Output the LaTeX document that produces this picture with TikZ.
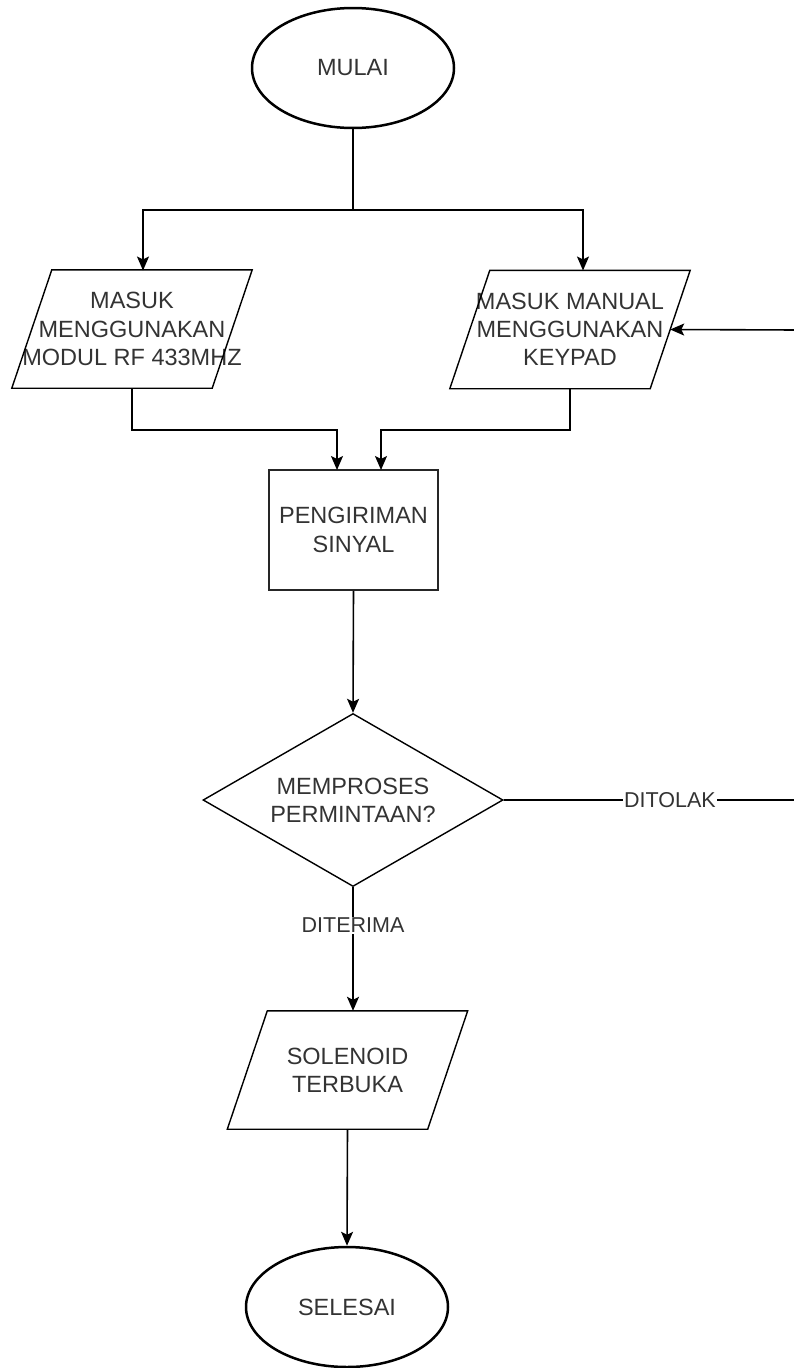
\documentclass[tikz,border=0pt]{standalone}
\usepackage{fontspec}
\setmainfont{Liberation Sans}
\usetikzlibrary{shapes.geometric,arrows.meta,calc}
\definecolor{txt}{HTML}{333333}
\begin{document}
\begin{tikzpicture}[x=1pt,y=-1pt,
  every node/.style={text=txt,font=\fontsize{23.5}{28.2}\selectfont,align=center},
  term/.style={ellipse,draw=black,line width=2.5pt,minimum width=202pt,minimum height=120pt,inner sep=0pt},
  io/.style={rectangle,minimum width=240pt,minimum height=118pt,inner sep=0pt},
  iob/.style={draw=black,line width=1.4pt},
  proc/.style={rectangle,draw=black!85,line width=1.6pt,minimum width=169pt,minimum height=120pt,inner sep=0pt},
  dec/.style={diamond,draw=black,line width=1.4pt,aspect=1.73,minimum width=300pt,minimum height=173pt,inner sep=0pt},
  conn/.style={draw=black,line width=1.6pt},
  arr/.style={conn,-{Stealth[length=14pt,width=12pt,inset=3pt]}},
  lbl/.style={fill=white,inner sep=1pt,font=\fontsize{21.5}{25}\selectfont}
]
\useasboundingbox (0,0) rectangle (793,1368);

\node[term] (start) at (353,68) {MULAI};
\node[io] (lp) at (132,329) {MASUK\\MENGGUNAKAN\\MODUL RF 433MHZ};
\node[io] (rp) at (570,329.5) {MASUK MANUAL\\MENGGUNAKAN\\KEYPAD};
\node[proc] (box) at (353.5,530) {PENGIRIMAN\\SINYAL};
\node[dec] (dec) at (353,800) {MEMPROSES\\PERMINTAAN?};
\node[io] (sol) at (347.5,1070) {SOLENOID\\TERBUKA};
\node[term] (end) at (347,1307) {SELESAI};

\foreach \n in {lp,rp,sol}{
  \draw[iob] ($(\n.north west)+(40,0)$) -- (\n.north east) -- ($(\n.south east)-(40,0)$) -- (\n.south west) -- cycle;
}

\coordinate (j1) at (353,210);
\coordinate (lpin) at (143,270.5);
\coordinate (rpin) at (583,270.5);
\coordinate (bl) at (337,470);
\coordinate (br) at (381,470);
\coordinate (o1) at (798,800);
\coordinate (o2) at (798,330);
\coordinate (rpe) at ($(rp.east)-(20,0)$);

\draw[conn] (start.south) -- (j1);
\draw[arr] (j1) -| (lpin);
\draw[arr] (j1) -| (rpin);
\draw[arr] (lp.south) -- ++(0,42) -| (bl);
\draw[arr] (rp.south) -- ++(0,41) -| (br);
\draw[arr] (box.south) -- (dec.north);
\draw[arr] (dec.south) -- (dec.south |- sol.north) node[lbl,pos=0.31] {DITERIMA};
\draw[arr] (sol.south) -- (end.north);
\draw[arr] (dec.east) -- (o1) -- (o2) -- (rpe);
\node[lbl] at (670,800) {DITOLAK};
\end{tikzpicture}
\end{document}
